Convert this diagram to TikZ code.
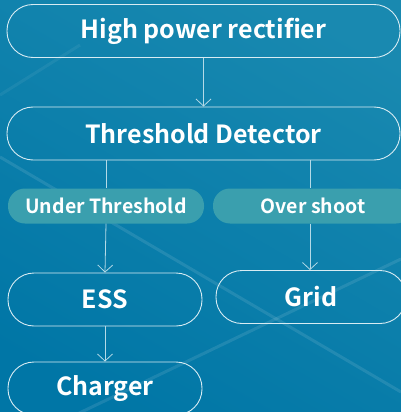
\documentclass[tikz,border=0pt]{standalone}
\usepackage{fontspec}
\newfontfamily\kr{Noto Sans CJK KR}[BoldFont={Noto Sans CJK KR Bold}]
\usetikzlibrary{arrows.meta,positioning}
\definecolor{bgA}{HTML}{1989B0}
\definecolor{bgB}{HTML}{0076A6}
\definecolor{pill}{HTML}{3A9FAE}
\definecolor{edge}{HTML}{D8ECF3}
\definecolor{arr}{HTML}{B4DAE7}
\tikzset{
  x=1pt,y=-1pt,
  box/.style={draw=edge, line width=0.9pt, rounded corners=26pt, minimum height=53pt,
    text=white, font=\kr\bfseries\fontsize{25}{27}\selectfont, anchor=center, inner sep=0pt},
  pillbox/.style={fill=pill, rounded corners=17pt, minimum height=35pt,
    text=white, font=\kr\bfseries\fontsize{19.5}{21}\selectfont, anchor=center, inner sep=0pt},
  conn/.style={draw=arr, line width=0.8pt},
  arrow/.style={conn, -{Straight Barb[length=7pt,width=15pt,line width=0.8pt]}},
  bgline/.style={draw=white, opacity=0.1, line width=3pt}
}
\begin{document}
\begin{tikzpicture}
\useasboundingbox (0,0) rectangle (401,412);
\begin{scope}
\clip (0,0) rectangle (401,412);
\shade[top color=bgA, bottom color=bgB, shading angle=-30] (-20,-20) rectangle (421,432);
\draw[bgline] (0,157) -- (401,392);
\draw[bgline] (0,451) -- (401,259);
\draw[bgline, opacity=0.06] (0,95) -- (80,45);
% nodes
\node[box, minimum width=393pt] (hpr) at (203.5,31) {High power rectifier};
\node[box, minimum width=393pt] (td) at (203.5,133.5) {Threshold Detector};
\node[pillbox, minimum width=196pt] (ut) at (106,206) {Under Threshold};
\node[pillbox, minimum width=200pt] (os) at (313,206) {Over shoot};
\node[box, minimum width=194pt] (ess) at (105,299.5) {ESS};
\node[box, minimum width=190pt] (grid) at (311,297) {Grid};
\node[box, minimum width=194pt] (chg) at (105,388.5) {Charger};
\end{scope}
% connectors
\draw[arrow] (hpr.south) -- (td.north);
\draw[conn] (td.south -| ut.north) -- (ut.north);
\draw[conn] (td.south -| 310,0) -- (os.north -| 310,0);
\draw[arrow] (ut.south) -- (ess.north);
\draw[arrow] (os.south -| 310,0) -- (grid.north -| 310,0);
\draw[arrow] (ess.south) -- (chg.north);
\end{tikzpicture}
\end{document}
